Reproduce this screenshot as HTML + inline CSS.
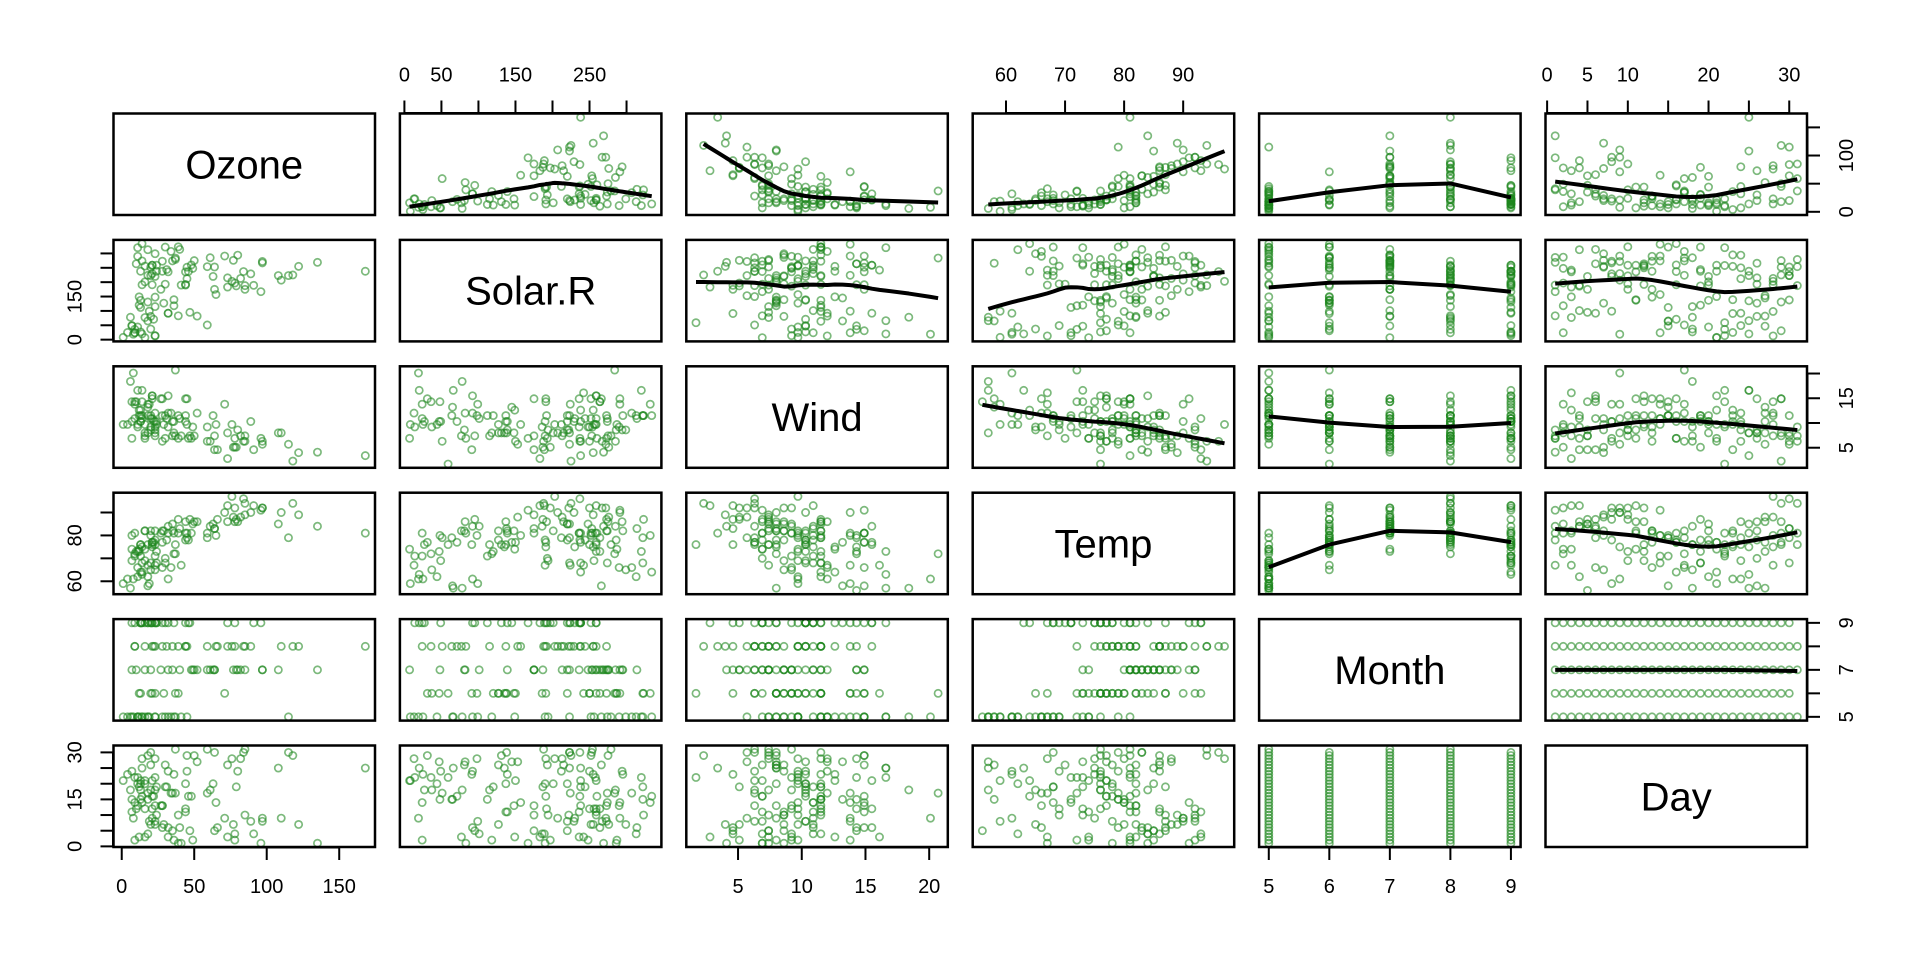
<!DOCTYPE html>
<html><head><meta charset="utf-8"><title>airquality pairs</title>
<style>html,body{margin:0;padding:0;background:#fff;}svg{display:block;}</style>
</head><body>
<svg id="chart" width="1920" height="960" xmlns="http://www.w3.org/2000/svg" font-family="Liberation Sans, Arial, sans-serif"></svg>
<script>
const varNames = ["Ozone","Solar.R","Wind","Temp","Month","Day"];
const ozone = [41,36,12,18,null,28,23,19,8,null,7,16,11,14,18,14,34,6,30,11,1,11,4,32,null,null,null,23,45,115,37,null,null,null,null,null,null,29,null,71,39,null,null,23,null,null,21,37,20,12,13,null,null,null,null,null,null,null,null,null,null,135,49,32,null,64,40,77,97,97,85,null,10,27,null,7,48,35,61,79,63,16,null,null,80,108,20,52,82,50,64,59,39,9,16,78,35,66,122,89,110,null,null,44,28,65,null,22,59,23,31,44,21,9,null,45,168,73,null,76,118,84,85,96,78,73,91,47,32,20,23,21,24,44,21,28,9,13,46,18,13,24,16,13,23,36,7,14,30,null,14,18,20];
const solar = [190,118,149,313,null,null,299,99,19,194,null,256,290,274,65,334,307,78,322,44,8,320,25,92,66,266,null,13,252,223,279,286,287,242,186,220,264,127,273,291,323,259,250,148,332,322,191,284,37,120,137,150,59,91,250,135,127,47,98,31,138,269,248,236,101,175,314,276,267,272,175,139,264,175,291,48,260,274,285,187,220,7,258,295,294,223,81,82,213,275,253,254,83,24,77,null,null,null,255,229,207,222,137,192,273,157,64,71,51,115,244,190,259,36,255,212,238,215,153,203,225,237,188,167,197,183,189,95,92,252,220,230,259,236,259,238,24,112,237,224,27,238,201,238,14,139,49,20,193,145,191,131,223];
const wind = [7.4,8,12.6,11.5,14.3,14.9,8.6,13.8,20.1,8.6,6.9,9.7,9.2,10.9,13.2,11.5,12,18.4,11.5,9.7,9.7,16.6,9.7,12,16.6,14.9,8,12,14.9,5.7,7.4,8.6,9.7,16.1,9.2,8.6,14.3,9.7,6.9,13.8,11.5,10.9,9.2,8,13.8,11.5,14.9,20.7,9.2,11.5,10.3,6.3,1.7,4.6,6.3,8,8,10.3,11.5,14.9,8,4.1,9.2,9.2,10.9,4.6,10.9,5.1,6.3,5.7,7.4,8.6,14.3,14.9,14.9,14.3,6.9,10.3,6.3,5.1,11.5,6.9,9.7,11.5,8.6,8,8.6,12,7.4,7.4,7.4,9.2,6.9,13.8,7.4,6.9,7.4,4.6,4,10.3,8,8.6,11.5,11.5,11.5,9.7,11.5,10.3,6.3,7.4,10.9,10.3,15.5,14.3,12.6,9.7,3.4,8,5.7,9.7,2.3,6.3,6.3,6.9,5.1,2.8,4.6,7.4,15.5,10.9,10.3,10.9,9.7,14.9,15.5,6.3,10.9,11.5,6.9,13.8,10.3,10.3,8,12.6,9.2,10.3,10.3,16.6,6.9,13.2,14.3,8,11.5];
const temp = [67,72,74,62,56,66,65,59,61,69,74,69,66,68,58,64,66,57,68,62,59,73,61,61,57,58,57,67,81,79,76,78,74,67,84,85,79,82,87,90,87,93,92,82,80,79,77,72,65,73,76,77,76,76,76,75,78,73,80,77,83,84,85,81,84,83,83,88,92,92,89,82,73,81,91,80,81,82,84,87,85,74,81,82,86,85,82,86,88,86,83,81,81,81,82,86,85,87,89,90,90,92,86,86,82,80,79,77,79,76,78,78,77,72,75,79,81,86,88,97,94,96,94,91,92,93,93,87,84,80,78,75,73,81,76,77,71,71,78,67,76,68,82,64,71,81,69,63,70,77,75,76,68];
const month = [
5,5,5,5,5,5,5,5,5,5, 5,5,5,5,5,5,5,5,5,5, 5,5,5,5,5,5,5,5,5,5, 5,
6,6,6,6,6,6,6,6,6,6, 6,6,6,6,6,6,6,6,6,6, 6,6,6,6,6,6,6,6,6,6,
7,7,7,7,7,7,7,7,7,7, 7,7,7,7,7,7,7,7,7,7, 7,7,7,7,7,7,7,7,7,7, 7,
8,8,8,8,8,8,8,8,8,8, 8,8,8,8,8,8,8,8,8,8, 8,8,8,8,8,8,8,8,8,8, 8,
9,9,9,9,9,9,9,9,9,9, 9,9,9,9,9,9,9,9,9,9, 9,9,9,9,9,9,9,9,9,9];
const day = [
1,2,3,4,5,6,7,8,9,10,11,12,13,14,15,16,17,18,19,20,21,22,23,24,25,26,27,28,29,30,31,
1,2,3,4,5,6,7,8,9,10,11,12,13,14,15,16,17,18,19,20,21,22,23,24,25,26,27,28,29,30,
1,2,3,4,5,6,7,8,9,10,11,12,13,14,15,16,17,18,19,20,21,22,23,24,25,26,27,28,29,30,31,
1,2,3,4,5,6,7,8,9,10,11,12,13,14,15,16,17,18,19,20,21,22,23,24,25,26,27,28,29,30,31,
1,2,3,4,5,6,7,8,9,10,11,12,13,14,15,16,17,18,19,20,21,22,23,24,25,26,27,28,29,30];
const tickValues = [[0,50,100,150],[0,50,100,150,200,250,300],[5,10,15,20],[60,70,80,90],[5,6,7,8,9],[0,5,10,15,20,25,30]];
const bottomTopLabels = [[0,50,100,150],[0,50,150,250],[5,10,15,20],[60,70,80,90],[5,6,7,8,9],[0,5,10,20,30]];
const leftRightLabels = [[0,100],[0,150],[5,15],[60,80],[5,7,9],[0,15,30]];

const cols = [ozone, solar, wind, temp, month, day];
const NS = "http://www.w3.org/2000/svg";
const svg = document.getElementById("chart");
const X0 = 113.5, PX = 286.4, W = 261.5, Y0 = 113.5, PY = 126.4, H = 101.5;

function mk(tag, attrs, parent) {
  const e = document.createElementNS(NS, tag);
  for (const k in attrs) e.setAttribute(k, attrs[k]);
  (parent || svg).appendChild(e);
  return e;
}
function ok(v) { return v !== null && v !== undefined && isFinite(v); }
function extent(a) {
  const v = a.filter(ok);
  const mn = Math.min(...v), mx = Math.max(...v), r = mx - mn;
  return [mn - 0.04 * r, mx + 0.04 * r];
}
const doms = cols.map(extent);
function sx(j, v) { const d = doms[j]; return X0 + j * PX + (v - d[0]) / (d[1] - d[0]) * W; }
function sy(i, v) { const d = doms[i]; return Y0 + i * PY + H - (v - d[0]) / (d[1] - d[0]) * H; }

function lowess(x, y, f, iter) {
  const n = x.length;
  const idx = x.map((_, k) => k).sort((a, b) => x[a] - x[b]);
  const xs = idx.map(k => x[k]), ys = idx.map(k => y[k]);
  const ns = Math.max(2, Math.min(n, Math.round(f * n)));
  const range = xs[n - 1] - xs[0];
  const ymin = Math.min(...ys), ymax = Math.max(...ys), yr = ymax - ymin;
  let rw = new Array(n).fill(1);
  let fit = new Array(n).fill(0);
  for (let it = 0; it <= iter; it++) {
    let nl = 0, nr = ns - 1;
    for (let i = 0; i < n; i++) {
      while (nr < n - 1 && xs[i] - xs[nl] > xs[nr + 1] - xs[i]) { nl++; nr++; }
      const h = Math.max(xs[i] - xs[nl], xs[nr] - xs[i]);
      const h9 = 0.999 * h, h1 = 0.001 * h;
      const w = new Array(n).fill(0);
      let sw = 0;
      for (let j = 0; j < n; j++) {
        const r = Math.abs(xs[j] - xs[i]);
        if (r <= h9) {
          let ww = r <= h1 ? 1 : Math.pow(1 - Math.pow(r / h, 3), 3);
          ww *= rw[j]; w[j] = ww; sw += ww;
        }
      }
      if (sw <= 0) { fit[i] = ys[i]; continue; }
      for (let j = 0; j < n; j++) w[j] /= sw;
      let mean = 0; for (let j = 0; j < n; j++) mean += w[j] * ys[j];
      let s = mean;
      if (h > 0) {
        let a = 0; for (let j = 0; j < n; j++) a += w[j] * xs[j];
        let b = 0; for (let j = 0; j < n; j++) b += w[j] * (xs[j] - a) * (xs[j] - a);
        if (Math.sqrt(b) > 0.001 * range) {
          const beta = (xs[i] - a) / b;
          s = 0;
          for (let j = 0; j < n; j++) s += w[j] * (beta * (xs[j] - a) + 1) * ys[j];
        }
      }
      if (!isFinite(s) || s < ymin - yr || s > ymax + yr) s = mean;
      fit[i] = s;
    }
    if (it === iter) break;
    const res = ys.map((v, k) => v - fit[k]);
    const ar = res.map(Math.abs).sort((a, b) => a - b);
    const m = n % 2 ? ar[(n - 1) / 2] : (ar[n / 2 - 1] + ar[n / 2]) / 2;
    const cmad = 6 * m;
    if (cmad < 1e-7) break;
    rw = res.map(r0 => { const r = Math.abs(r0); if (r <= 0.001 * cmad) return 1; if (r > 0.999 * cmad) return 0; const q = r / cmad; return (1 - q * q) * (1 - q * q); });
  }
  return { x: xs, y: fit };
}

for (let i = 0; i < 6; i++) {
  for (let j = 0; j < 6; j++) {
    const g = mk("g", {});
    
    
    const bx = X0 + j * PX, by = Y0 + i * PY;
    if (i === j) {
      const t = mk("text", { x: bx + W / 2, y: by + H / 2 + 14, "text-anchor": "middle", "font-size": 40, fill: "#000" }, g);
      t.textContent = varNames[i];
      
      
    } else {
      const xv = cols[j], yv = cols[i];
      const px = [], py = [];
      const n = Math.min(xv.length, yv.length);
      for (let k = 0; k < n; k++) {
        if (!ok(xv[k]) || !ok(yv[k])) continue;
        px.push(xv[k]); py.push(yv[k]);
        const c = mk("circle", { cx: sx(j, xv[k]), cy: sy(i, yv[k]), r: 3.6, fill: "none", stroke: "rgba(30,135,30,0.58)", "stroke-width": 1.7 }, g);
        
        
      }
      if (i < j) {
        const lw = lowess(px, py, 2 / 3, 3);
        const d = lw.x.map((v, k) => (k ? "L" : "M") + sx(j, v).toFixed(2) + "," + sy(i, lw.y[k]).toFixed(2)).join("");
        const p = mk("path", { d: d, fill: "none", stroke: "#000", "stroke-width": 4, "stroke-linejoin": "round" }, g);
        
        
      }
    }
    const r = mk("rect", { x: bx, y: by, width: W, height: H, fill: "none", stroke: "#000", "stroke-width": 2.5 }, g);
    
    
  }
}

// x axes
for (let j = 0; j < 6; j++) {
  const top = j % 2 === 1;
  const yEdge = top ? Y0 : Y0 + 5 * PY + H;
  const dir = top ? -1 : 1;
  const g = mk("g", {});
  
  
  const tv = tickValues[j];
  mk("line", { x1: sx(j, tv[0]), x2: sx(j, tv[tv.length - 1]), y1: yEdge + dir * 0.5, y2: yEdge + dir * 0.5, stroke: "#000", "stroke-width": 2 }, g);
  tv.forEach(v => {
    const l = mk("line", { x1: sx(j, v), x2: sx(j, v), y1: yEdge, y2: yEdge + dir * 13, stroke: "#000", "stroke-width": 2 }, g);
    
    
  });
  bottomTopLabels[j].forEach(v => {
    const t = mk("text", { x: sx(j, v), y: yEdge + dir * 39 + 7, "text-anchor": "middle", "font-size": 20, fill: "#000" }, g);
    t.textContent = v;
    
    
  });
}
// y axes
for (let i = 0; i < 6; i++) {
  const right = i % 2 === 0;
  const xEdge = right ? X0 + 5 * PX + W : X0;
  const dir = right ? 1 : -1;
  const g = mk("g", {});
  
  
  const tv = tickValues[i];
  mk("line", { x1: xEdge + dir * 0.5, x2: xEdge + dir * 0.5, y1: sy(i, tv[0]), y2: sy(i, tv[tv.length - 1]), stroke: "#000", "stroke-width": 2 }, g);
  tv.forEach(v => {
    const l = mk("line", { x1: xEdge, x2: xEdge + dir * 13, y1: sy(i, v), y2: sy(i, v), stroke: "#000", "stroke-width": 2 }, g);
    
    
  });
  leftRightLabels[i].forEach(v => {
    const cx = xEdge + dir * 39 + 7, cy = sy(i, v);
    const t = mk("text", { x: cx, y: cy, "text-anchor": "middle", "font-size": 20, fill: "#000", transform: "rotate(-90 " + cx + " " + cy + ")" }, g);
    t.textContent = v;
    
    
  });
}
</script>
</body></html>
